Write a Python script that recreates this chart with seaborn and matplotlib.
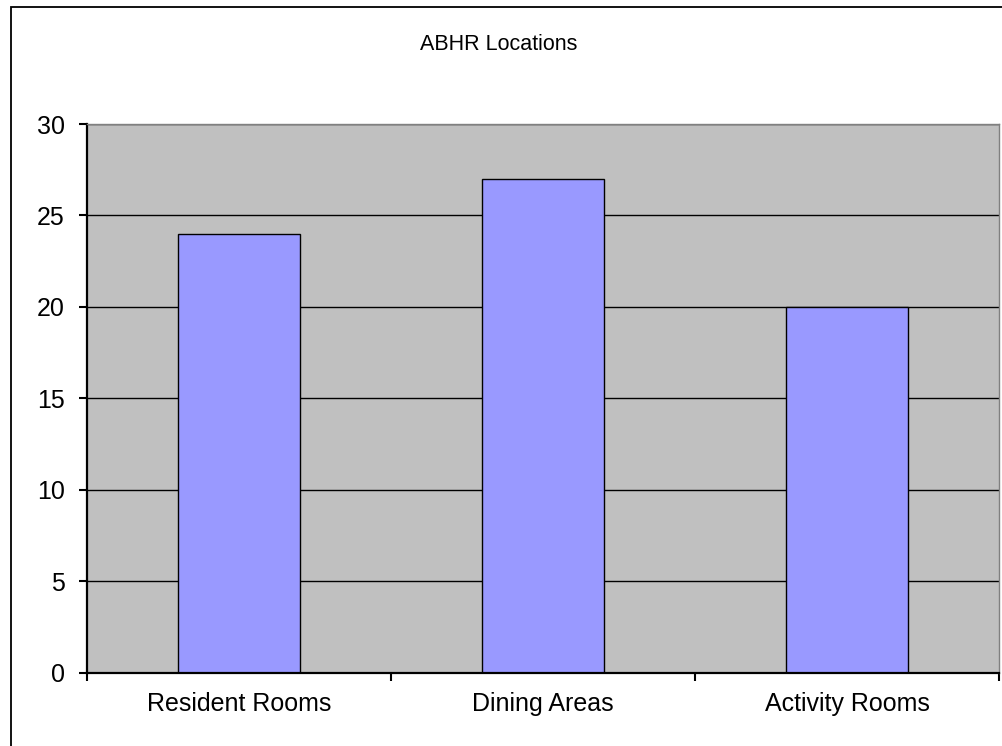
import matplotlib
matplotlib.use("Agg")
import matplotlib.pyplot as plt
import matplotlib.patches as mpatches
import seaborn as sns

# Chart data
categories = ["Resident Rooms", "Dining Areas", "Activity Rooms"]
counts = [24, 27, 20]
y_ticks = [0, 5, 10, 15, 20, 25, 30]

sns.set_theme(style="white")
plt.rcParams['font.family'] = ['Liberation Sans', 'DejaVu Sans']
plt.rcParams['text.color'] = 'black'
plt.rcParams['xtick.labelcolor'] = 'black'
plt.rcParams['ytick.labelcolor'] = 'black'

fig = plt.figure(figsize=(10.03, 7.46), dpi=100)
ax = fig.add_axes([87 / 1003, 1 - 672.5 / 746, 912 / 1003, 548.5 / 746])
ax.set_facecolor('#C0C0C0')

# Gridlines behind the bars
ax.set_axisbelow(True)
ax.yaxis.grid(True, color='black', linewidth=1.0)
ax.xaxis.grid(False)

sns.barplot(x=categories, y=counts, color='#9999FF', saturation=1,
            edgecolor='black', linewidth=1.0, width=0.4, ax=ax)

ax.set_xlim(-0.5, len(categories) - 0.5)
ax.set_ylim(0, 30)
ax.set_yticks(y_ticks)

# Category boundary ticks, labels centred on the bars
ax.set_xticks([i - 0.5 for i in range(len(categories) + 1)])
ax.set_xticklabels([])
ax.set_xticks(range(len(categories)), minor=True)
ax.set_xticklabels(categories, minor=True)
ax.tick_params(axis='x', which='major', direction='out', length=6, width=1.5,
               color='black', bottom=True)
ax.tick_params(axis='x', which='minor', length=0, pad=14, labelsize=18,
               labelcolor='black')
ax.tick_params(axis='y', direction='out', length=6, width=1.5, color='black',
               left=True, pad=10, labelsize=18, labelcolor='black')
ax.set_xlabel('')
ax.set_ylabel('')

for side in ['left', 'bottom']:
    ax.spines[side].set_color('black')
    ax.spines[side].set_linewidth(1.6)
for side in ['top', 'right']:
    ax.spines[side].set_color('#808080')
    ax.spines[side].set_linewidth(1.0)

fig.text(499 / 1003, 1 - 45 / 746, 'ABHR Locations', ha='center', va='center',
         fontsize=15.5, color='black')

# Chart-area border
fig.patches.append(mpatches.Rectangle((11 / 1003, -0.1), 1.2, 1.1 - 7 / 746,
                                      transform=fig.transFigure, fill=False,
                                      edgecolor='black', linewidth=1.3))

fig.savefig('out.png', dpi=100)
